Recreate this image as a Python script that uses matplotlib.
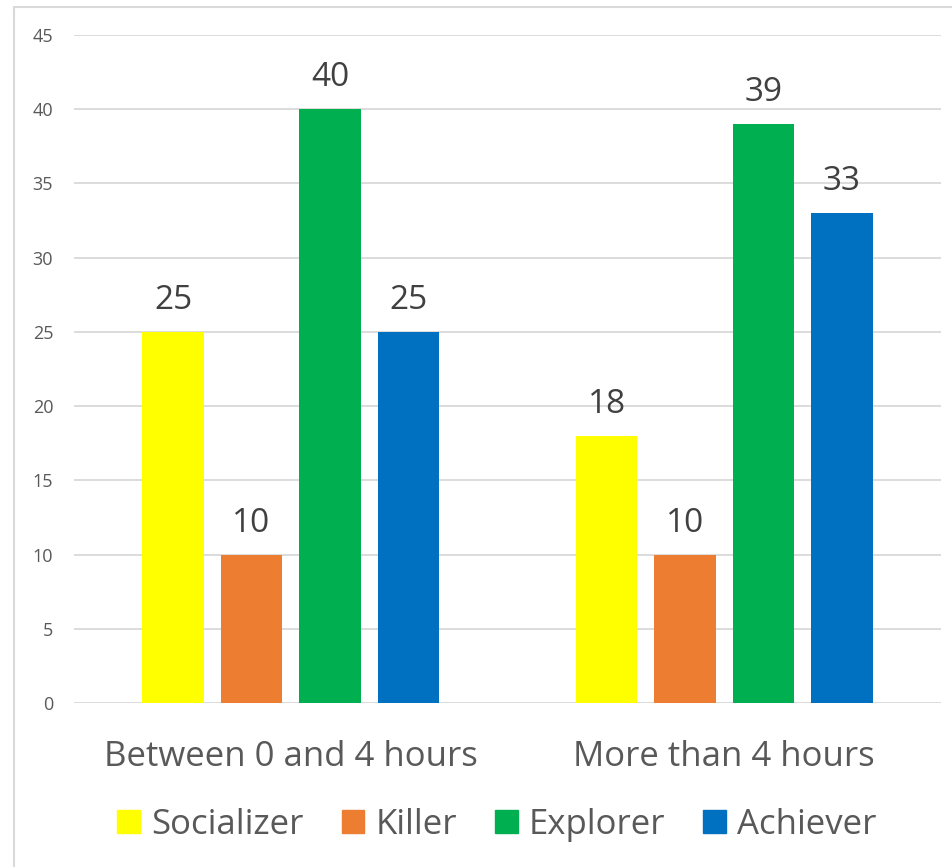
import matplotlib
matplotlib.use("Agg")
import matplotlib.pyplot as plt
from matplotlib.patches import Rectangle, Patch
import numpy as np

categories = ["Between 0 and 4 hours", "More than 4 hours"]
series_names = ["Socializer", "Killer", "Explorer", "Achiever"]
socializer = [25, 18]
killer = [10, 10]
explorer = [40, 39]
achiever = [25, 33]
values = [socializer, killer, explorer, achiever]
colors = ["#FFFF00", "#ED7D31", "#00B050", "#0070C0"]
yticks = list(range(0, 46, 5))

plt.rcParams['font.family'] = ['Open Sans', 'DejaVu Sans']
txt = "#595959"

fig = plt.figure(figsize=(9.52, 8.67), dpi=100)
W, H = 952, 867
ax = fig.add_axes([74 / W, 1 - 703 / H, (941 - 74) / W, (703 - 35) / H])

x = np.arange(len(categories))
bw = 0.141
step = 0.181
for i, (name, vals, c) in enumerate(zip(series_names, values, colors)):
    pos = x + (i - 1.5) * step
    bars = ax.bar(pos, vals, width=bw, color=c, label=name, zorder=3)
    for b, v in zip(bars, vals):
        ax.text(b.get_x() + b.get_width() / 2, v + 1.0, str(v), ha='center', va='bottom',
                fontsize=24, color="#404040")

ax.set_xlim(-0.5, 1.5)
ax.set_ylim(0, 45)
ax.set_yticks(yticks)
ax.set_xticks(x)
ax.set_xticklabels(categories, fontsize=25, color=txt)
ax.tick_params(axis='x', length=0, pad=27)
ax.tick_params(axis='y', length=0, pad=15, labelsize=13, labelcolor=txt)
ax.grid(axis='y', color="#D9D9D9", linewidth=1.3, zorder=0)
for s in ax.spines.values():
    s.set_visible(False)

handles = [Patch(color=c, label=n) for n, c in zip(series_names, colors)]
fig.legend(handles=handles, loc='center', bbox_to_anchor=(497 / W, 1 - 825 / H), ncol=4,
           frameon=False, fontsize=25, labelcolor=txt, handlelength=0.65, handleheight=0.65,
           handletextpad=0.32, columnspacing=1.1)

fig.patches.append(Rectangle((14 / W, -0.1), 1.2, 1.1 - 7 / H, transform=fig.transFigure,
                             fill=False, edgecolor="#D9D9D9", linewidth=1.5))

fig.savefig("out.png", dpi=100)
